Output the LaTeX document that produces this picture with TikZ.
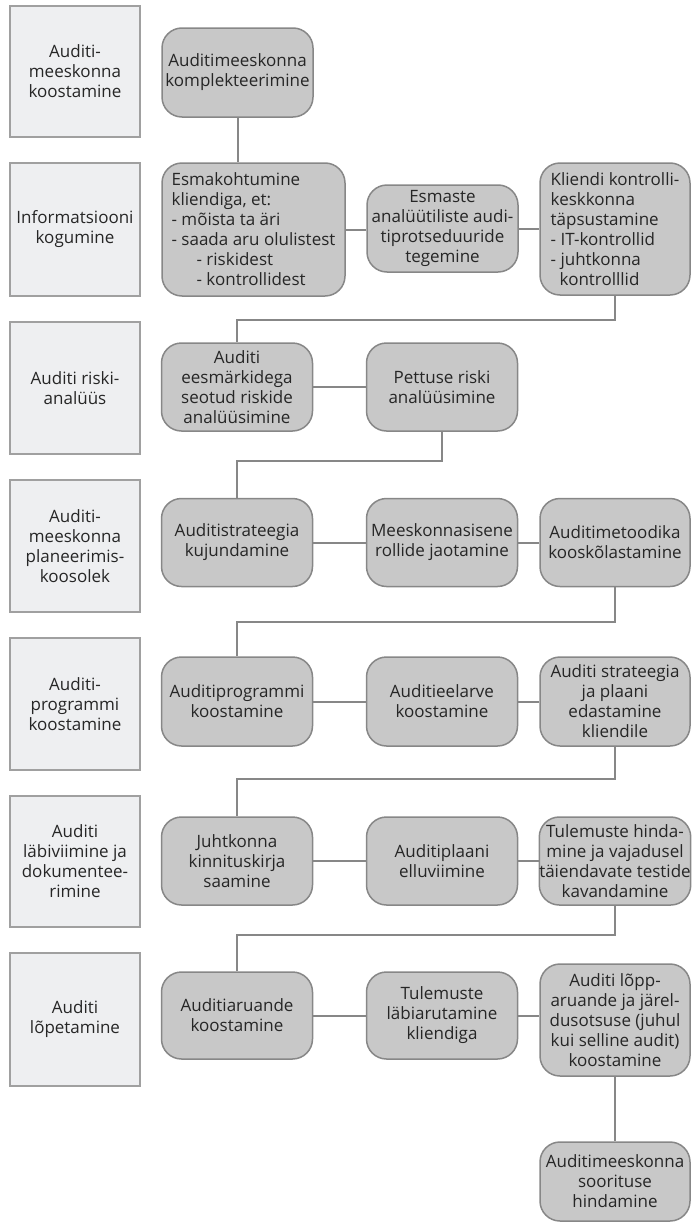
\documentclass[tikz,border=0pt]{standalone}
\usepackage{fontspec}
\setmainfont{Open Sans}
\usepackage{tikz}
\usetikzlibrary{calc}

\definecolor{phasefill}{RGB}{238,239,241}
\definecolor{phaseline}{RGB}{160,160,160}
\definecolor{taskfill}{RGB}{200,200,200}
\definecolor{taskline}{RGB}{135,135,135}

\begin{document}
\begin{tikzpicture}[x=1pt,y=-1pt,
  every node/.style={font=\fontsize{17}{20}\selectfont,text=black!85},
  phase/.style={draw=phaseline,fill=phasefill,line width=1.5pt,minimum width=130,align=center,inner sep=0},
  task/.style={draw=taskline,fill=taskfill,line width=1.5pt,rounded corners=20,minimum width=151,align=center,inner sep=0},
  link/.style={draw=taskline,line width=2pt}]
  \useasboundingbox (0,0) rectangle (692,1226);

  % Phases (left column)
  \node[phase,minimum height=131] (ph1) at (75,71.5) {Auditi-\\meeskonna\\koostamine};
  \node[phase,minimum height=133] (ph2) at (75,229.5) {Informatsiooni\\kogumine};
  \node[phase,minimum height=132] (ph3) at (75,388) {Auditi riski-\\analüüs};
  \node[phase,minimum height=132] (ph4) at (75,546) {Auditi-\\meeskonna\\planeerimis-\\koosolek};
  \node[phase,minimum height=132] (ph5) at (75,704) {Auditi-\\programmi\\koostamine};
  \node[phase,minimum height=131] (ph6) at (75,861.5) {Auditi\\läbiviimine ja\\dokumentee-\\rimine};
  \node[phase,minimum height=133] (ph7) at (75,1019.5) {Auditi\\lõpetamine};

  % Row 1
  \node[task,minimum height=89] (kom) at (237.5,72.5) {Auditimeeskonna\\komplekteerimine};

  % Row 2
  \node[task,minimum width=183,minimum height=133,align=left] (esm) at (253.5,229.5)
    {Esmakohtumine\\kliendiga, et:\\- mõista ta äri\\- saada aru olulistest\\\hspace*{25pt}- riskidest\\\hspace*{25pt}- kontrollidest};
  \node[task,minimum height=87] (ana) at (442.5,228.5) {Esmaste\\analüütiliste audi-\\tiprotseduuride\\tegemine};
  \node[task,minimum width=150,minimum height=132,align=left] (kli) at (615,229)
    {Kliendi kontrolli-\\keskkonna\\täpsustamine\\- IT-kontrollid\\- juhtkonna\\\hspace*{9pt}kontrolllid};

  % Row 3
  \node[task,minimum height=88] (ris) at (237,387) {Auditi\\eesmärkidega\\seotud riskide\\analüüsimine};
  \node[task,minimum height=88] (pet) at (442,387) {Pettuse riski\\analüüsimine};

  % Row 4
  \node[task,minimum height=88] (str) at (237,542.5) {Auditistrateegia\\kujundamine};
  \node[task,minimum height=88] (rol) at (442,542.5) {Meeskonnasisene\\rollide jaotamine};
  \node[task,minimum width=150,minimum height=88] (met) at (615,542.5) {Auditimetoodika\\kooskõlastamine};

  % Row 5
  \node[task,minimum height=89] (prg) at (237,701.5) {Auditiprogrammi\\koostamine};
  \node[task,minimum height=89] (eel) at (442,701.5) {Auditieelarve\\koostamine};
  \node[task,minimum width=150,minimum height=89] (eda) at (615,701.5) {Auditi strateegia\\ja plaani\\edastamine\\kliendile};

  % Row 6
  \node[task,minimum height=88] (kin) at (237,861) {Juhtkonna\\kinnituskirja\\saamine};
  \node[task,minimum height=88] (ell) at (442,861) {Auditiplaani\\elluviimine};
  \node[task,minimum width=150,minimum height=88] (hin) at (615,861) {Tulemuste hinda-\\mine ja vajadusel\\täiendavate testide\\kavandamine};

  % Row 7
  \node[task,minimum height=87] (aru) at (237,1015.5) {Auditiaruande\\koostamine};
  \node[task,minimum height=87] (lab) at (442,1015.5) {Tulemuste\\läbiarutamine\\kliendiga};
  \node[task,minimum width=150,minimum height=112] (lop) at (615,1020) {Auditi lõpp-\\aruande ja järel-\\dusotsuse (juhul\\kui selline audit)\\koostamine};

  % Row 8
  \node[task,minimum width=150,minimum height=79] (soo) at (615,1181.5) {Auditimeeskonna\\soorituse\\hindamine};

  % Links within rows
  \draw[link] (esm.east) -- (esm.east -| ana.west);
  \draw[link] (ana.east) -- (ana.east -| kli.west);
  \draw[link] (ris) -- (pet);
  \draw[link] (str) -- (rol);
  \draw[link] (rol) -- (met);
  \draw[link] (prg) -- (eel);
  \draw[link] (eel) -- (eda);
  \draw[link] (kin) -- (ell);
  \draw[link] (ell) -- (hin);
  \draw[link] (aru) -- (lab);
  \draw[link] (lab.east) -- (lab.east -| lop.west);

  % Links between rows
  \draw[link] (kom.south) -- (kom.south |- esm.north);
  \draw[link] (kli.south) -- (kli.south |- 0,320) -| (ris.north);
  \draw[link] (pet.south) -- (pet.south |- 0,461) -| (str.north);
  \draw[link] (met.south) -- (met.south |- 0,622) -| (prg.north);
  \draw[link] (eda.south) -- (eda.south |- 0,779) -| (kin.north);
  \draw[link] (hin.south) -- (hin.south |- 0,935) -| (aru.north);
  \draw[link] (lop.south) -- (soo.north);

\end{tikzpicture}
\end{document}
